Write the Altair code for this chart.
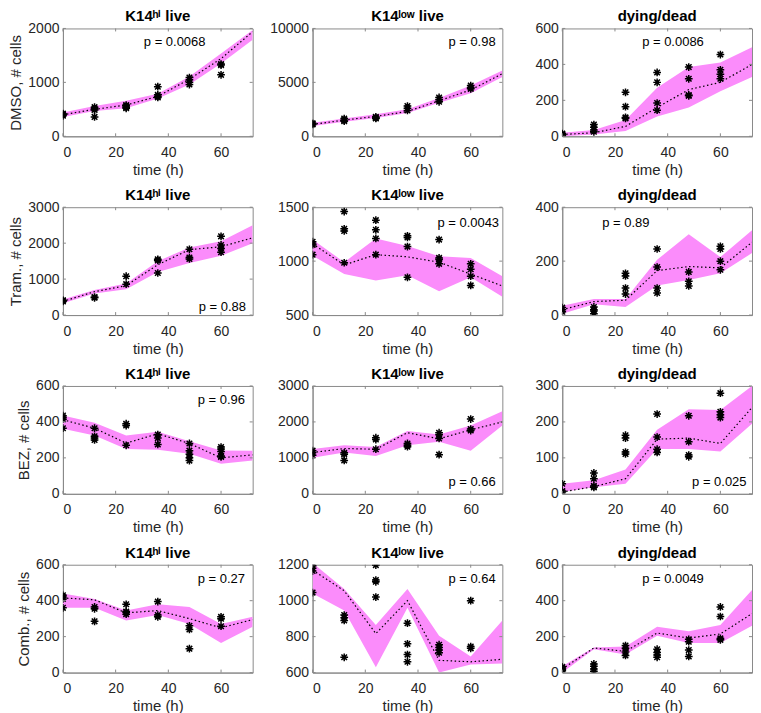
import altair as alt
import pandas as pd

T_OBS = [0, 12, 24, 36, 48, 60]
T_MODEL = [0, 12, 24, 36, 48, 60, 72]

ROW_LABELS = ["DMSO, # cells", "Tram., # cells", "BEZ, # cells", "Comb., # cells"]
COL_TITLES = ["K14ʰⁱ live", "K14ˡᵒʷ live", "dying/dead"]

# ---- DMSO ----
dmso_hi_obs = [[380, 400, 420, 410], [540, 510, 490, 360], [580, 560, 540, 520],
               [920, 770, 740, 720], [1090, 1050, 1000, 960], [1340, 1320, 1140]]
dmso_hi_mean = [400, 500, 580, 740, 1060, 1440, 1940]
dmso_hi_lo = [360, 470, 520, 700, 960, 1350, 1790]
dmso_hi_hi = [440, 560, 660, 790, 1110, 1535, 1970]
dmso_hi_p = "p = 0.0068"

dmso_low_obs = [[1150, 1100, 1200], [1650, 1500, 1400], [1800, 1700, 1650],
                [2800, 2600, 2400], [3600, 3400, 3200], [4700, 4500, 4400]]
dmso_low_mean = [1100, 1500, 1850, 2300, 3300, 4300, 5800]
dmso_low_lo = [950, 1350, 1700, 2150, 3100, 4000, 5500]
dmso_low_hi = [1250, 1650, 2050, 2500, 3550, 4700, 6100]
dmso_low_p = "p = 0.98"

dmso_dead_obs = [[15, 10, 5, 12], [65, 50, 35, 25], [245, 165, 100, 105],
                 [355, 300, 185, 145], [385, 320, 230, 225], [455, 370, 345, 320]]
dmso_dead_mean = [10, 20, 55, 160, 260, 300, 400]
dmso_dead_lo = [0, 10, 30, 110, 160, 250, 330]
dmso_dead_hi = [20, 35, 90, 270, 385, 410, 495]
dmso_dead_p = "p = 0.0086"

# ---- Tram ----
tram_hi_obs = [[400, 380, 410], [480, 500], [1080, 860], [1550, 1520, 1170],
               [1830, 1600, 1560], [2190, 1950, 1850, 1750]]
tram_hi_mean = [380, 650, 820, 1400, 1820, 1900, 2150]
tram_hi_lo = [330, 600, 720, 1200, 1450, 1650, 2000]
tram_hi_hi = [430, 700, 880, 1500, 1880, 2050, 2500]
tram_hi_p = "p = 0.88"

tram_low_obs = [[1180, 1160, 1150, 1060], [1460, 1300, 1280, 985], [1380, 1290, 1210, 1060],
                [1235, 1220, 1135, 850], [1200, 1030, 1015, 975], [975, 925, 860, 775]]
tram_low_mean = [1160, 965, 1060, 1040, 990, 880, 770]
tram_low_lo = [1050, 880, 820, 870, 720, 850, 670]
tram_low_hi = [1200, 990, 1210, 1140, 1045, 1030, 860]
tram_low_p = "p = 0.0043"

tram_dead_obs = [[28, 20, 12], [30, 20, 15, 5], [155, 145, 100, 78],
                 [245, 178, 100, 82], [160, 125, 108], [255, 245, 200, 168]]
tram_dead_mean = [20, 50, 55, 165, 180, 175, 270]
tram_dead_lo = [5, 40, 30, 110, 130, 155, 230]
tram_dead_hi = [35, 60, 60, 205, 300, 215, 315]
tram_dead_p = "p = 0.89"

# ---- BEZ ----
bez_hi_obs = [[435, 425, 415, 365], [365, 320, 310, 300], [390, 380, 270],
              [330, 310, 275], [280, 240, 220, 200, 185], [260, 250, 235, 210, 205]]
bez_hi_mean = [412, 365, 282, 334, 280, 200, 217]
bez_hi_lo = [362, 325, 250, 245, 223, 167, 186]
bez_hi_hi = [436, 395, 325, 345, 293, 241, 240]
bez_hi_p = "p = 0.96"

bez_low_obs = [[1200, 1150, 1070], [1140, 1100, 930], [1560, 1510, 1240],
               [1400, 1350, 1310], [1700, 1640, 1540, 1090], [2080, 1800, 1760]]
bez_low_mean = [1150, 1260, 1240, 1700, 1530, 1780, 2000]
bez_low_lo = [1000, 1150, 1050, 1350, 1450, 1200, 1900]
bez_low_hi = [1250, 1350, 1300, 1750, 1650, 1900, 2300]
bez_low_p = "p = 0.66"

bez_dead_obs = [[28, 8, 5], [58, 42, 22, 18], [163, 155, 116, 111],
                [222, 158, 124, 115], [217, 145, 108, 103], [280, 228, 220, 212]]
bez_dead_mean = [5, 20, 42, 152, 155, 140, 240]
bez_dead_lo = [5, 18, 28, 125, 125, 118, 195]
bez_dead_hi = [28, 38, 68, 178, 235, 233, 300]
bez_dead_p = "p = 0.025"

# ---- Comb ----
comb_hi_obs = [[430, 420, 410, 360], [365, 355, 285], [380, 340, 335, 325],
               [395, 320, 310], [260, 240, 133], [310, 300, 258]]
comb_hi_mean = [415, 405, 332, 345, 300, 249, 295]
comb_hi_lo = [360, 360, 290, 320, 270, 165, 255]
comb_hi_hi = [440, 410, 345, 380, 365, 270, 310]
comb_hi_p = "p = 0.27"

comb_low_obs = [[1195, 1180, 1165, 1045], [920, 905, 890, 685], [1198, 1115, 1105, 1020],
                [875, 760, 700, 660], [755, 740, 725, 710], [1000, 745, 735]]
comb_low_mean = [1170, 1055, 817, 1000, 668, 660, 674]
comb_low_lo = [1040, 945, 630, 960, 600, 645, 650]
comb_low_hi = [1210, 1065, 865, 1065, 805, 690, 890]
comb_low_p = "p = 0.64"

comb_dead_obs = [[32, 25, 18, 10], [48, 35, 20, 8], [150, 135, 115, 95],
                 [130, 112, 98, 85], [185, 172, 125, 90], [365, 312, 190, 182]]
comb_dead_mean = [20, 137, 118, 220, 192, 215, 328]
comb_dead_lo = [0, 130, 100, 205, 165, 165, 260]
comb_dead_hi = [35, 140, 145, 255, 230, 265, 460]
comb_dead_p = "p = 0.0049"

PANELS = [
    [(dmso_hi_obs, dmso_hi_mean, dmso_hi_lo, dmso_hi_hi, dmso_hi_p),
     (dmso_low_obs, dmso_low_mean, dmso_low_lo, dmso_low_hi, dmso_low_p),
     (dmso_dead_obs, dmso_dead_mean, dmso_dead_lo, dmso_dead_hi, dmso_dead_p)],
    [(tram_hi_obs, tram_hi_mean, tram_hi_lo, tram_hi_hi, tram_hi_p),
     (tram_low_obs, tram_low_mean, tram_low_lo, tram_low_hi, tram_low_p),
     (tram_dead_obs, tram_dead_mean, tram_dead_lo, tram_dead_hi, tram_dead_p)],
    [(bez_hi_obs, bez_hi_mean, bez_hi_lo, bez_hi_hi, bez_hi_p),
     (bez_low_obs, bez_low_mean, bez_low_lo, bez_low_hi, bez_low_p),
     (bez_dead_obs, bez_dead_mean, bez_dead_lo, bez_dead_hi, bez_dead_p)],
    [(comb_hi_obs, comb_hi_mean, comb_hi_lo, comb_hi_hi, comb_hi_p),
     (comb_low_obs, comb_low_mean, comb_low_lo, comb_low_hi, comb_low_p),
     (comb_dead_obs, comb_dead_mean, comb_dead_lo, comb_dead_hi, comb_dead_p)],
]

# axis (domain, tick step) per panel
Y_AXES = [
    [((0, 2000), 1000), ((0, 10000), 5000), ((0, 600), 200)],
    [((0, 3000), 1000), ((500, 1500), 500), ((0, 400), 200)],
    [((0, 600), 200), ((0, 3000), 1000), ((0, 300), 100)],
    [((0, 600), 200), ((600, 1200), 200), ((0, 600), 200)],
]
X_TICKS = [0, 20, 40, 60]

W, H = 190, 108

# p-value text placement (pixels inside plot area: left x, middle y)
P_POS = [
    [(81, 14), (136, 14), (80, 14)],
    [(136, 100), (125, 16), (40, 16)],
    [(135, 14), (136, 96), (130, 96)],
    [(135, 14), (136, 14), (80, 14)],
]

FONT = "Liberation Sans"
BAND = "#fb8cfb"
AX = "#8a8a8a"
TXT = "#262626"
ASTERISK = "M-1,0L1,0M0,-1L0,1M-0.72,-0.72L0.72,0.72M-0.72,0.72L0.72,-0.72"


def panel(r, c):
    obs, mean, lo, hi, ptxt = PANELS[r][c]
    (d0, d1), step = Y_AXES[r][c]
    yticks = list(range(d0, d1 + 1, step))
    obs_df = pd.DataFrame([{"t": t, "v": v} for t, vals in zip(T_OBS, obs) for v in vals])
    mod_df = pd.DataFrame({"t": T_MODEL, "mean": mean, "lo": lo, "hi": hi})
    xt_df = pd.DataFrame({"t": X_TICKS})
    yt_df = pd.DataFrame({"v": yticks})

    xscale = alt.Scale(domain=[0, 72], nice=False, zero=False)
    yscale = alt.Scale(domain=[d0, d1], nice=False, zero=False)
    xaxis = alt.Axis(values=X_TICKS, title="time (h)", format="d")
    yaxis = alt.Axis(values=yticks, title=ROW_LABELS[r] if c == 0 else None, format="d")

    def X(f):
        return alt.X(f, type="quantitative", scale=xscale, axis=xaxis)

    def Y(f):
        return alt.Y(f, type="quantitative", scale=yscale, axis=yaxis)

    band = alt.Chart(mod_df).mark_area(color=BAND, opacity=1, clip=True).encode(
        x=X("t"), y=Y("lo"), y2="hi")
    line = alt.Chart(mod_df).mark_line(color="black", strokeDash=[1.5, 2.5],
                                       strokeWidth=1.2, clip=True).encode(x=X("t"), y=Y("mean"))
    pts = alt.Chart(obs_df).mark_point(shape=ASTERISK, filled=False, color="black",
                                       strokeWidth=1.5, size=60, opacity=1,
                                       clip=True).encode(x=X("t"), y=Y("v"))
    px, py = P_POS[r][c]
    ptext = alt.Chart(pd.DataFrame({"p": [ptxt]})).mark_text(
        align="left", baseline="middle", font=FONT, fontSize=13, color="black"
    ).encode(x=alt.value(px), y=alt.value(py), text="p:N")

    ttl = alt.Chart(pd.DataFrame({"title": [COL_TITLES[c]]})).mark_text(
        align="center", baseline="alphabetic", font=FONT, fontSize=15,
        fontWeight="bold", color="black"
    ).encode(x=alt.value(W / 2), y=alt.value(-7), text="title:N")

    tb = alt.Chart(xt_df).mark_rule(color=AX, strokeWidth=1).encode(
        x=X("t"), y=alt.value(H), y2=alt.value(H - 3))
    tt = alt.Chart(xt_df).mark_rule(color=AX, strokeWidth=1).encode(
        x=X("t"), y=alt.value(0), y2=alt.value(3))
    tl = alt.Chart(yt_df).mark_rule(color=AX, strokeWidth=1).encode(
        y=Y("v"), x=alt.value(0), x2=alt.value(3))
    tr = alt.Chart(yt_df).mark_rule(color=AX, strokeWidth=1).encode(
        y=Y("v"), x=alt.value(W), x2=alt.value(W - 3))

    return alt.layer(band, line, pts, ptext, ttl, tb, tt, tl, tr).properties(
        width=W, height=H)


rows = [alt.hconcat(*[panel(r, c) for c in range(3)], spacing=60, bounds="flush")
        .resolve_scale(x="independent", y="independent") for r in range(4)]
chart = alt.vconcat(*rows, spacing=9).resolve_scale(
    x="independent", y="independent"
).properties(padding=0).configure_view(
    stroke=AX, strokeWidth=1
).configure_axis(
    labelFont=FONT, titleFont=FONT, labelFontSize=14, titleFontSize=15,
    titleFontWeight="normal", labelColor=TXT, titleColor=TXT,
    domainColor=AX, tickSize=0, grid=False,
).configure_axisX(
    labelPadding=9, titlePadding=3,
).configure_axisY(
    labelPadding=4, titlePadding=4,
)

chart.save("out.html", embed_options={"renderer": "svg", "actions": False})
